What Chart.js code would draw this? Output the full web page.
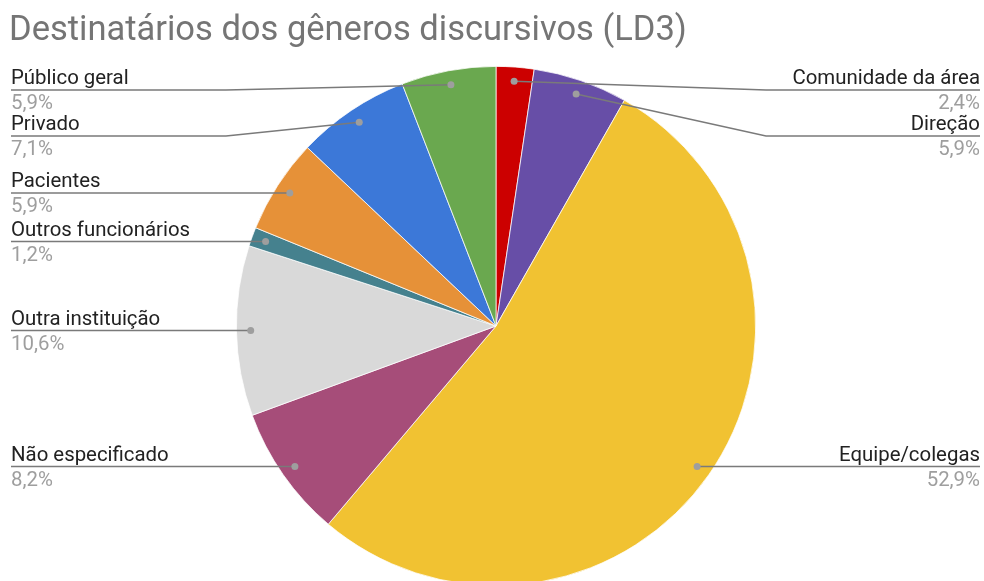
<!DOCTYPE html>
<html>
<head>
<meta charset="utf-8">
<script src="https://cdn.jsdelivr.net/npm/chart.js@4"></script>
<style>
  html, body { margin: 0; padding: 0; background: #fff; overflow: hidden; }
  #wrap { width: 984px; height: 600px; }
</style>
</head>
<body>
<div id="wrap"><canvas id="pie" width="984" height="600"></canvas></div>
<script>
const titleText = 'Destinatários dos gêneros discursivos (LD3)';
const categories = ['Comunidade da área', 'Direção', 'Equipe/colegas', 'Não especificado',
  'Outra instituição', 'Outros funcionários', 'Pacientes', 'Privado', 'Público geral'];
const counts = [2, 5, 45, 7, 9, 1, 5, 6, 5];
const percentLabels = ['2,4%', '5,9%', '52,9%', '8,2%', '10,6%', '1,2%', '5,9%', '7,1%', '5,9%'];
const sliceColors = ['#cc0000', '#674ea7', '#f1c232', '#a64d79', '#d9d9d9',
  '#45818e', '#e69138', '#3c78d8', '#6aa84f'];

const fontFamily = 'Roboto, sans-serif';

// rótulos com linhas de chamada
const leaderLabels = {
  id: 'leaderLabels',
  afterDraw(chart) {
    const ctx = chart.ctx;
    const arcs = chart.getDatasetMeta(0).data;

    ctx.save();
    ctx.font = '34.5px ' + fontFamily;
    ctx.fillStyle = '#757575';
    ctx.textAlign = 'left';
    ctx.textBaseline = 'alphabetic';
    ctx.fillText(titleText, 9, 40);

    const items = arcs.map((arc, i) => {
      const mid = (arc.startAngle + arc.endAngle) / 2;
      const r = arc.outerRadius * 0.945;
      return {
        i,
        dx: arc.x + Math.cos(mid) * r,
        dy: arc.y + Math.sin(mid) * r,
        right: Math.cos(mid) >= 0
      };
    });

    const place = (list) => {
      list.sort((a, b) => a.dy - b.dy);
      let prev = -Infinity;
      list.forEach(it => {
        it.ly = Math.max(it.dy, 90, prev + 46);
        prev = it.ly;
      });
    };
    place(items.filter(it => it.right));
    place(items.filter(it => !it.right));

    items.forEach(it => {
      const edgeX = it.right ? 980 : 11;
      const elbowX = it.right ? 766 : 226;
      ctx.strokeStyle = '#7a7a7a';
      ctx.lineWidth = 1.5;
      ctx.beginPath();
      ctx.moveTo(edgeX, it.ly);
      ctx.lineTo(elbowX, it.ly);
      ctx.lineTo(it.dx, it.dy);
      ctx.stroke();

      ctx.fillStyle = '#9e9e9e';
      ctx.beginPath();
      ctx.arc(it.dx, it.dy, 3.5, 0, Math.PI * 2);
      ctx.fill();

      ctx.textAlign = it.right ? 'right' : 'left';
      ctx.font = '20.4px ' + fontFamily;
      ctx.fillStyle = '#222222';
      ctx.fillText(categories[it.i], edgeX, it.ly - 6);
      ctx.fillStyle = '#9e9e9e';
      ctx.fillText(percentLabels[it.i], edgeX, it.ly + 19);
    });
    ctx.restore();
  }
};

new Chart(document.getElementById('pie').getContext('2d'), {
  type: 'pie',
  data: {
    labels: categories,
    datasets: [{
      data: counts,
      backgroundColor: sliceColors,
      borderColor: '#ffffff',
      borderWidth: 0.75
    }]
  },
  options: {
    responsive: false,
    devicePixelRatio: 1,
    animation: false,
    layout: {
      padding: { top: 66, bottom: 14, left: 236, right: 228 }
    },
    plugins: {
      legend: { display: false },
      tooltip: { enabled: false },
      title: { display: false }
    }
  },
  plugins: [leaderLabels]
});
</script>
</body>
</html>
